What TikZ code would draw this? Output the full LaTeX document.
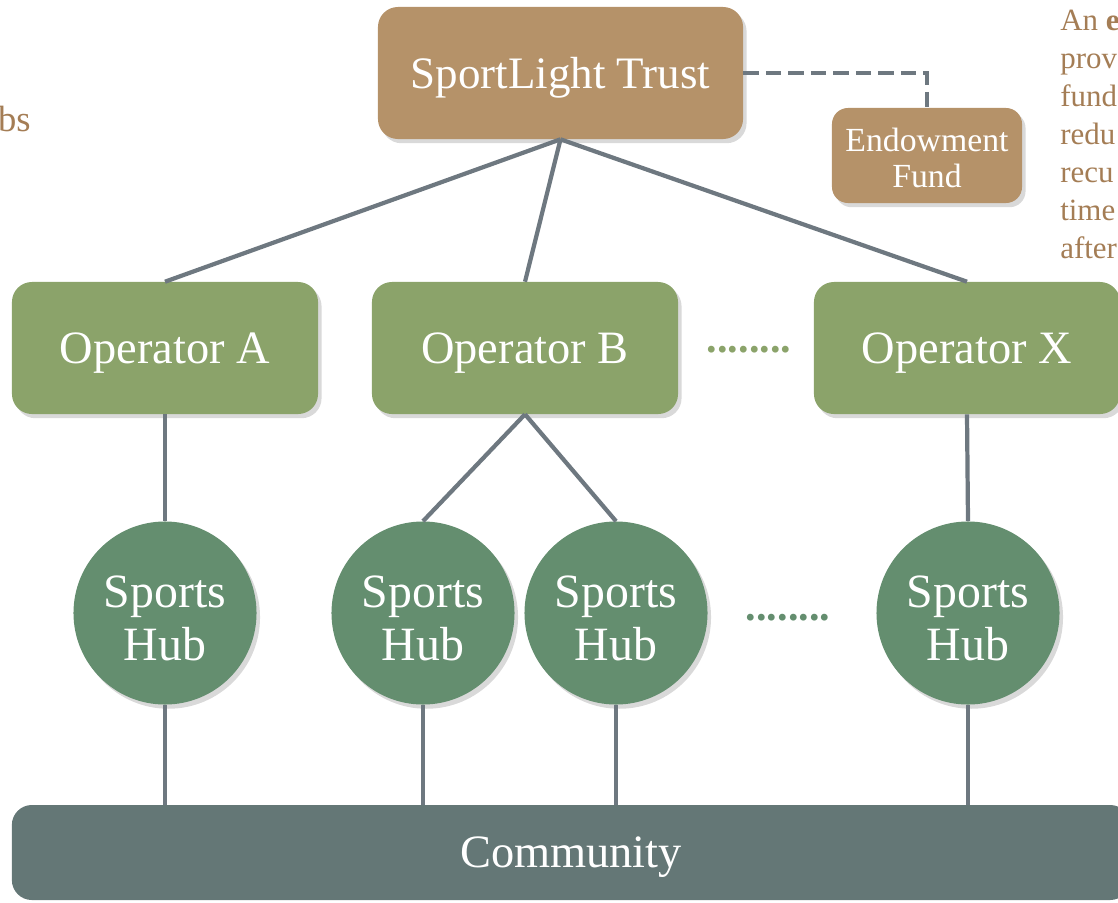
\documentclass[tikz,border=0pt]{standalone}
\usepackage{fontspec}
\setmainfont{Liberation Serif}
\usetikzlibrary{shadows}
\definecolor{trustc}{HTML}{B59269}
\definecolor{opc}{HTML}{8BA36A}
\definecolor{hubc}{HTML}{648E6F}
\definecolor{commc}{HTML}{647776}
\definecolor{linkc}{HTML}{6E7880}
\definecolor{notec}{HTML}{A47D55}
\tikzset{
  shade box/.style={drop shadow={opacity=.3,shadow xshift=2.5pt,shadow yshift=-3pt}},
  trustbox/.style={shade box,fill=trustc,rounded corners=.5cm,text=white,minimum width=9.125cm,minimum height=3.3cm,text depth=-5pt,font=\fontsize{32}{38}\selectfont},
  fundbox/.style={shade box,fill=trustc,rounded corners=.4cm,text=white,minimum width=4.75cm,minimum height=2.375cm,align=center,font=\fontsize{24}{26}\selectfont},
  opbox/.style={shade box,fill=opc,rounded corners=.5cm,text=white,minimum width=7.65cm,minimum height=3.3cm,text depth=-3pt,font=\fontsize{33}{38}\selectfont},
  hubnode/.style={shade box,circle,fill=hubc,text=white,minimum size=4.575cm,inner sep=0pt,align=center,font=\fontsize{34}{38}\selectfont},
  commbox/.style={fill=commc,rounded corners=.5cm,text=white,minimum width=27.95cm,minimum height=2.375cm,text depth=-5pt,font=\fontsize{33}{38}\selectfont},
  link/.style={draw=linkc,line width=3pt},
  moredots/.style={font=\fontsize{30}{30}\selectfont\bfseries}
}
\begin{document}
\begin{tikzpicture}[x=0.025cm,y=-0.025cm]
\useasboundingbox (0,0) rectangle (1118,902);
\clip (0,0) rectangle (1118,902);
% side notes
\node[anchor=base east,inner sep=0,text=notec,font=\fontsize{26}{27}\selectfont] (leftnote) at (31,131) {bs};
\node[anchor=north west,inner sep=0,text=notec,align=left,font=\fontsize{22}{27}\selectfont] (rightnote) at (1060,10)
  {An \textbf{e}\\prov\\fund\\redu\\recu\\time\\after};
% boxes
\node[trustbox] (trust) at (560.5,73) {SportLight Trust};
\node[fundbox] (fund) at (927,155.5) {\rule{0pt}{20pt}Endowment\\Fund};
\foreach \n/\x/\t in {opA/165/A,opB/525/B,opX/967/X}
{
    \node[opbox] (\n) at (\x,348) {Operator \t};
}
\foreach \n/\x in {hubA/165,hubB/423,hubC/616,hubX/968}
{
    \node[hubnode] (\n) at (\x,613) {\rule{0pt}{30pt}Sports\\Hub};
}
\node[commbox] (comm) at (571,852.5) {Community};
\node[moredots,text=opc] (dotsop) at (749,350) {........};
\node[moredots,text=hubc] (dotshub) at (788,618) {........};
% links
\draw[link,dashed,dash pattern=on 11pt off 5pt] (trust.east) -| (fund.north);
\foreach \n in {opA,opB,opX}
{
    \draw[link] (trust.south) -- (\n.north);
}
\draw[link] (opA.south) -- (hubA.north);
\draw[link] (opB.south) -- (hubB.north);
\draw[link] (opB.south) -- (hubC.north);
\draw[link] (opX.south) -- (hubX.north);
\foreach \n in {hubA,hubB,hubC,hubX}
{
    \draw[link] (\n.south) -- (\n.south |- comm.north);
}
\end{tikzpicture}
\end{document}
